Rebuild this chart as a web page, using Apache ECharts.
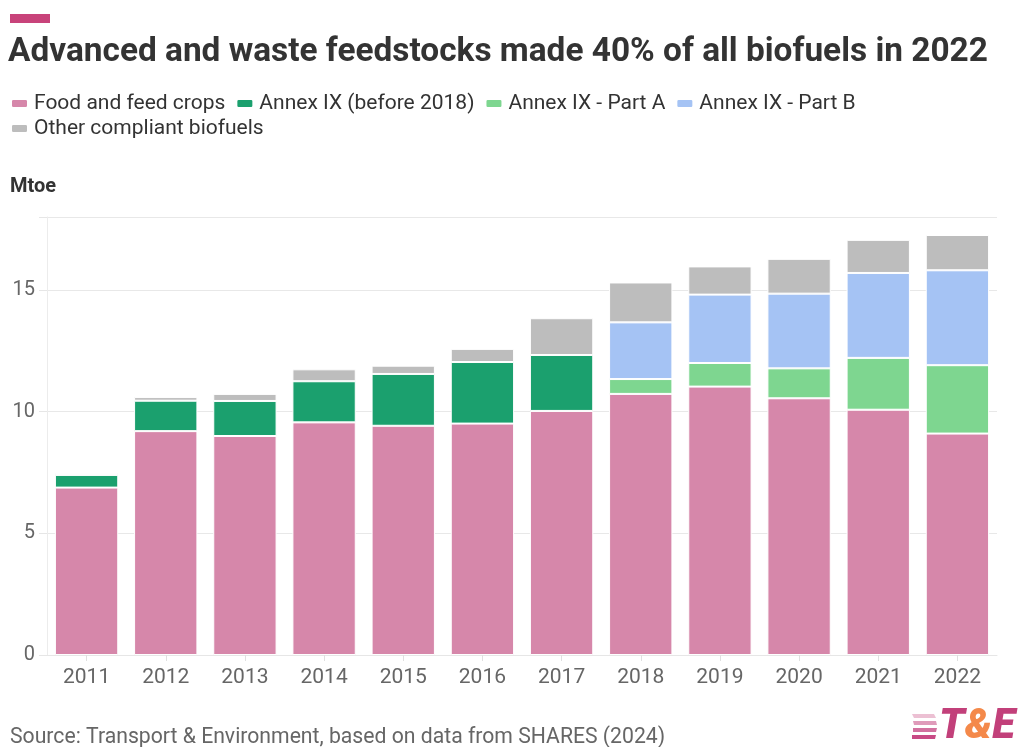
<!DOCTYPE html>
<html>
<head>
<meta charset="utf-8">
<script src="https://cdn.jsdelivr.net/npm/echarts@6/dist/echarts.min.js"></script>
<style>
html,body{margin:0;padding:0;background:#fff;}
#chart{width:1023px;height:747px;}
</style>
</head>
<body>
<div id="chart"></div>
<script>
var years = ['2011','2012','2013','2014','2015','2016','2017','2018','2019','2020','2021','2022'];
var foodCrops   = [6.88, 9.20, 9.00, 9.56, 9.42, 9.51, 10.03, 10.73, 11.03, 10.55, 10.08, 9.10];
var annexIXOld  = [0.52, 1.25, 1.44, 1.69, 2.13, 2.53, 2.30, 0, 0, 0, 0, 0];
var annexIXA    = [0, 0, 0, 0, 0, 0, 0, 0.61, 0.97, 1.23, 2.13, 2.81];
var annexIXB    = [0, 0, 0, 0, 0, 0, 0, 2.33, 2.81, 3.07, 3.49, 3.90];
var otherBio    = [0.08, 0.15, 0.29, 0.49, 0.34, 0.54, 1.51, 1.64, 1.16, 1.43, 1.36, 1.45];
var seriesNames = ['Food and feed crops', 'Annex IX (before 2018)', 'Annex IX - Part A', 'Annex IX - Part B', 'Other compliant biofuels'];
var seriesData  = [foodCrops, annexIXOld, annexIXA, annexIXB, otherBio];
var colors = ['#d687aa', '#1ba06e', '#7ed690', '#a5c3f4', '#bdbdbd'];

var chart = echarts.init(document.getElementById('chart'), null, {renderer: 'canvas'});
var font = 'Roboto, "Noto Sans", sans-serif';

var series = seriesNames.map(function (n, i) {
  return {
    name: n,
    type: 'bar',
    stack: 'total',
    barCategoryGap: '20%',
    data: seriesData[i].map(function (v) { return v === 0 ? null : v; }),
    itemStyle: {color: colors[i], borderColor: '#ffffff', borderWidth: 1},
    emphasis: {disabled: true}
  };
});

var legendCommon = {
  icon: 'roundRect',
  itemWidth: 17,
  itemHeight: 9,
  itemGap: 10,
  left: 10,
  padding: 0,
  textStyle: {fontFamily: font, fontSize: 21, color: '#333333', padding: [0, 0, 0, 1]},
  selectedMode: false
};

chart.setOption({
  animation: false,
  color: colors,
  title: [
    {
      text: 'Advanced and waste feedstocks made 40% of all biofuels in 2022',
      left: 8, top: 36, padding: 0,
      textStyle: {fontFamily: font, fontSize: 33.4, fontWeight: 'bold', color: '#333333'}
    },
    {
      text: 'Mtoe',
      left: 10, top: 177, padding: 0,
      textStyle: {fontFamily: font, fontSize: 20, fontWeight: 'bold', color: '#333333'}
    },
    {
      text: 'Source: Transport & Environment, based on data from SHARES (2024)',
      left: 10, top: 727, padding: 0,
      textStyle: {fontFamily: font, fontSize: 21.2, fontWeight: 'normal', color: '#666666'}
    }
  ],
  legend: [
    Object.assign({}, legendCommon, {top: 93, data: seriesNames.slice(0, 4)}),
    Object.assign({}, legendCommon, {top: 118, data: seriesNames.slice(4)})
  ],
  grid: {left: 47, right: 26, top: 217, bottom: 92, containLabel: false},
  xAxis: {
    type: 'category',
    data: years,
    axisLine: {show: true, lineStyle: {color: '#e6e6e6', width: 1}},
    axisTick: {show: true, alignWithLabel: true, length: 6, lineStyle: {color: '#e0e0e0'}},
    axisLabel: {fontFamily: font, fontSize: 21, color: '#666666', margin: 12}
  },
  yAxis: {
    type: 'value',
    min: 0, max: 18, interval: 5,
    axisLine: {show: true, lineStyle: {color: '#ececec', width: 1}},
    axisTick: {show: true, length: 8, lineStyle: {color: '#e6e6e6'}},
    splitLine: {show: true, lineStyle: {color: '#e8e8e8', width: 1}},
    axisLabel: {fontFamily: font, fontSize: 20, color: '#666666', margin: 12,
      formatter: function (v) { return (v % 5 === 0) ? String(v) : ''; }}
  },
  series: series,
  graphic: [
    {type: 'rect', shape: {x: 10, y: 14, width: 40, height: 9}, style: {fill: '#c8437a'}, silent: true},
    {type: 'polygon', shape: {points: [[912,714],[934,714],[936,718],[914,718]]}, style: {fill: '#ecc0d3'}, silent: true},
    {type: 'polygon', shape: {points: [[913,721],[936,721],[937,725],[914,725]]}, style: {fill: '#df9bba'}, silent: true},
    {type: 'polygon', shape: {points: [[913,728],[937,728],[936,732],[913,732]]}, style: {fill: '#d2719f'}, silent: true},
    {type: 'polygon', shape: {points: [[912,735],[936,735],[935,739],[912,739]]}, style: {fill: '#c84a85'}, silent: true},
    {
      type: 'text', left: 939, top: 706, silent: true,
      style: {
        text: '{a|T}{b|&}{a|E}',
        rich: {
          a: {fontFamily: font, fontSize: 42, fontWeight: 900, fontStyle: 'italic', fill: '#c2407a'},
          b: {fontFamily: font, fontSize: 42, fontWeight: 900, fontStyle: 'italic', fill: '#f4894a'}
        }
      }
    }
  ]
});
</script>
</body>
</html>
